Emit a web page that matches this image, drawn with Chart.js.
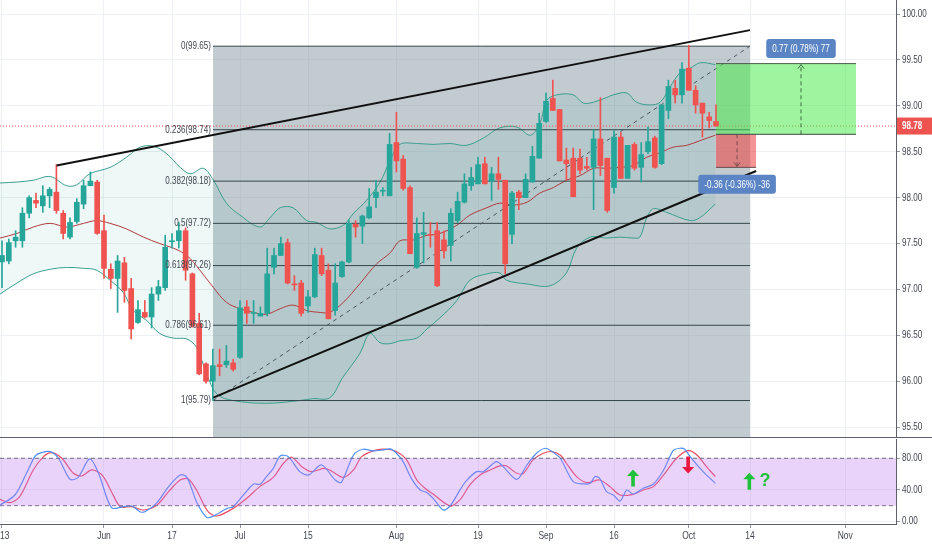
<!DOCTYPE html>
<html lang="en">
<head>
<meta charset="UTF-8">
<title>DXY daily</title>
<script src="https://cdn.jsdelivr.net/npm/chart.js"></script>
<style>
  html, body { margin: 0; padding: 0; background: #fff; }
  #wrap { position: relative; width: 932px; height: 550px; overflow: hidden; }
  #top { position: absolute; left: 0; top: 0; }
  #bot { position: absolute; left: 0; top: 438px; }
  .sep { position: absolute; left: 0; top: 437px; width: 932px; height: 1px; background: #5d606b; }
</style>
</head>
<body>
<div id="wrap">
  <canvas id="top" width="932" height="438" style="width:932px;height:438px"></canvas>
  <canvas id="bot" width="932" height="112" style="width:932px;height:112px"></canvas>
  <div class="sep"></div>
</div>
<script>
// ---- axis ticks ----
const tickIdx  = [0, 15, 25, 35, 45, 58, 70, 80, 90, 101, 110, 124];
const tickText = ['13', 'Jun', '17', 'Jul', '15', 'Aug', '19', 'Sep', '16', 'Oct', '14', 'Nov'];
const priceTicks = [95.5, 96, 96.5, 97, 97.5, 98, 98.5, 99, 99.5, 100];
const stochTicks = [0, 40, 80];

// ---- daily candles (trading day 0 = 13 May) ----
const opens  = [97.30,97.31,97.53,97.53,97.83,97.97,97.91,98.02,98.06,97.83,97.57,97.74,97.93,98.13,98.17,97.64,97.22,97.12,97.29,97.01,
                96.64,96.75,96.70,96.95,97.02,97.52,97.53,97.64,97.17,96.63,96.19,96.00,96.18,96.18,96.20,96.26,96.81,96.74,96.71,96.74,
                97.24,97.37,97.51,97.06,97.07,96.82,96.92,97.37,97.21,96.77,97.14,97.30,97.71,97.69,97.78,98.00,98.07,98.02,98.60,98.42,
                98.11,97.24,97.60,97.60,97.64,97.54,97.48,97.75,97.95,98.13,98.15,98.37,98.18,98.26,98.19,97.60,98.06,98.00,98.17,98.43,
                98.83,99.08,98.96,98.41,98.43,98.43,98.34,98.33,98.64,98.43,98.11,98.66,98.21,98.58,98.33,98.50,98.65,98.37,98.95,99.19,
                99.12,99.41,99.17,99.03,98.88,98.83];
const highs  = [97.53,97.55,97.64,97.89,98.02,98.05,98.13,98.11,98.36,97.86,97.78,97.99,98.19,98.28,98.19,97.81,97.28,97.37,97.35,97.12,
                96.88,96.88,97.02,97.10,97.59,97.61,97.73,97.67,97.18,96.74,96.20,96.35,96.35,96.39,96.24,96.88,96.88,96.88,96.81,97.45,
                97.45,97.57,97.55,97.15,97.10,96.99,97.45,97.45,97.28,97.28,97.31,97.76,97.75,97.81,98.10,98.19,98.11,98.70,98.93,98.46,
                98.13,97.78,97.84,97.73,97.73,97.64,97.88,98.06,98.26,98.33,98.44,98.44,98.33,98.44,98.19,98.07,98.08,98.26,98.56,98.92,
                99.14,99.28,98.96,98.54,98.54,98.53,98.44,98.74,99.09,98.43,98.73,98.71,98.57,98.60,98.60,98.77,98.67,99.01,99.28,99.28,
                99.47,99.66,99.22,99.03,98.93,99.01];
const lows   = [97.02,97.28,97.46,97.46,97.78,97.89,97.84,97.89,97.83,97.55,97.55,97.72,97.88,98.13,97.60,97.12,97.01,96.75,96.86,96.46,
                96.63,96.69,96.58,96.88,96.99,97.45,97.45,97.10,96.59,96.07,95.98,95.79,96.06,96.15,96.11,96.25,96.63,96.63,96.71,96.71,
                97.17,97.37,97.06,96.99,96.71,96.75,96.91,97.15,96.68,96.72,97.13,97.29,97.57,97.50,97.77,97.89,98.02,98.02,98.28,98.08,
                97.39,97.23,97.29,97.46,97.03,97.34,97.31,97.73,97.94,98.08,98.15,98.15,97.97,98.09,97.17,97.50,97.87,98.00,98.17,98.43,
                98.82,98.95,98.40,98.19,98.01,98.26,98.30,97.87,98.24,97.84,98.05,98.21,98.21,98.30,98.17,98.48,98.32,98.36,98.86,99.03,
                99.03,99.17,98.92,98.66,98.76,98.78];
const closes = [97.37,97.51,97.57,97.83,98.00,97.94,98.02,98.09,97.86,97.61,97.73,97.95,98.13,98.18,97.61,97.23,97.12,97.31,96.99,96.57,
                96.78,96.70,96.95,97.03,97.46,97.53,97.64,97.21,96.60,96.08,96.00,96.17,96.16,96.22,96.13,96.80,96.74,96.75,96.74,97.17,
                97.37,97.50,97.07,97.05,96.74,96.92,97.38,97.17,96.68,97.07,97.30,97.72,97.68,97.80,97.90,98.06,98.08,98.58,98.40,98.10,
                97.39,97.61,97.62,97.59,97.04,97.42,97.83,97.96,98.15,98.22,98.36,98.15,98.26,98.20,97.28,98.05,98.00,98.20,98.45,98.81,
                99.05,98.95,98.40,98.37,98.01,98.30,98.32,98.64,98.35,97.86,98.66,98.21,98.57,98.32,98.47,98.61,98.33,99.01,99.21,99.12,
                99.40,99.17,99.01,98.92,98.84,98.78];
const lastPrice = 98.78;

// ---- Bollinger bands ----
const bbUpX = [-0.3,2.2,4.6,7.1,9.5,11,12.9,15.9,18.3,20.3,22.3,24.2,26.2,27.7,29.6,31.1,33,35,37.9,39.4,40.9,42.8,44.8,46.3,48.2,50.2,51.7,53.6,
               55.6,57.1,58.5,61,63.4,65.9,68.3,70.8,73.2,75.7,77.7,79.1,80.1,81.6,84,85.5,87,88.9,89.9,91.9,93.3,95.3,96.8,98.2,99.7,101.2,102.7,104.9];
const bbUp  = [98.16,98.17,98.19,98.23,98.13,98.14,98.26,98.33,98.44,98.55,98.56,98.48,98.33,98.26,98.32,98.19,97.94,97.81,97.68,97.78,97.89,97.89,
               97.75,97.73,97.66,97.70,97.83,97.97,98.17,98.41,98.58,98.59,98.58,98.59,98.57,98.65,98.76,98.77,98.68,98.81,99.06,99.12,99.12,99.03,
               99.04,99.09,99.12,99.14,99.04,99.01,99.04,99.20,99.36,99.41,99.47,99.45];
const bbMidX = [-0.3,2.2,4.6,7.1,9.5,12,13.9,15.9,18.3,20.8,23.2,25.2,27.2,29.1,31.1,33,35,37,38.9,40.9,42.8,44.8,46.8,48.2,50.2,52.6,55.1,57.1,
                58.5,60.5,62.5,64.4,66.9,68.8,71.3,73.2,75.2,77.2,79.1,81.1,83,85,87,88.9,90.9,92.8,94.8,96.8,98.7,100.7,102.6,104.9];
const bbMid  = [97.56,97.61,97.68,97.72,97.68,97.72,97.75,97.72,97.66,97.57,97.50,97.45,97.37,97.21,97.02,96.86,96.79,96.75,96.73,96.79,96.83,
                96.77,96.75,96.75,96.86,97.06,97.28,97.40,97.53,97.54,97.59,97.61,97.70,97.81,97.89,97.94,97.92,97.95,98.05,98.11,98.19,98.24,98.32,
                98.32,98.33,98.35,98.44,98.49,98.55,98.57,98.62,98.68];
const bbLowX = [-0.3,2.2,4.6,7.1,9.5,12,13.9,15.9,17.8,19.3,21.3,23.2,25.2,27.2,28.6,30.1,31.6,34,38.9,43.8,45.7,48.2,50.1,52.6,54.1,55.6,57.1,
                58.5,61,62.5,64.4,66.9,68.8,71.3,73.2,74.2,77.2,80.6,83,84.5,86.5,88.9,90.9,92.8,93.8,94.8,95.8,97.7,101.2,102.6,104.9];
const bbLow  = [96.95,97.07,97.17,97.22,97.24,97.23,97.21,97.10,96.97,96.77,96.66,96.52,96.47,96.46,96.37,96.08,95.86,95.79,95.76,95.79,95.81,
                95.82,96.04,96.30,96.52,96.42,96.41,96.44,96.47,96.57,96.69,96.88,97.10,97.17,97.18,97.10,97.06,97.04,97.18,97.45,97.57,97.56,97.57,
                97.56,97.57,97.78,97.88,97.84,97.75,97.78,97.93];

// ---- stochastic %K / %D ----
const kX = [-0.3,1.9,3.6,4.9,5.8,7.1,8.3,10,11.2,12.9,14.2,16.1,17.8,19.1,20.3,21,22.7,24.5,26.2,27.2,28.6,30.1,31.1,33.1,34,35.7,37,37.9,38.9,
            39.9,40.9,42.1,43.8,45.1,47,49,49.9,51.7,53.1,54.6,56.1,57.1,58,59,60.2,61.5,62.5,63.4,64.9,65.9,67.4,68.3,69.8,70.8,72.7,73.7,75.7,
            77.2,78.6,79.9,81.1,82.1,84,85.5,86.5,87.2,87.9,88.9,89.9,90.9,91.9,92.8,94.3,95.8,97.3,98.7,99.7,100.4,101.2,103.1,104.9];
const kVal = [20.8,33.5,61,83,87.2,88.5,80,53.4,55.9,79.2,61,17.4,18.7,19.6,12.4,12.4,22.9,44.1,58.9,55.9,25.1,5.2,6.9,16.6,18.7,35.6,47.5,47,
              56.8,67.3,83,82.1,63.1,58.9,71.5,52.5,49.6,84.2,91.4,89.3,90.6,91.8,86.3,75.8,54.6,39.8,36.5,29.3,14.5,19.6,40.7,51.7,63.1,63.1,
              75.8,69.4,53.4,71.5,86.3,92.7,87.2,80,50.4,47.5,48.3,56.8,54.6,37.7,33.5,25.9,39.8,34.8,42,47.5,65.2,89.7,92.7,91.4,82.1,63.1,48.3];
const dX = [-0.3,1.2,2.6,4.6,6.1,7.3,8.8,10.5,11.7,13.2,14.7,16.1,17.4,19.1,20.8,22.8,24.5,26.2,27.4,28.6,30.3,31.6,34,36,37.9,39.9,41.4,42.6,
            44.1,45.5,47.3,48.2,50.2,51.7,52.9,55.1,56.6,58,59.5,61,62.2,63.4,65.9,67.4,68.8,70.3,71.8,73.2,74.2,75.7,76.7,78.1,79.6,80.8,82.1,
            83,84.5,86,87.9,89.4,90.9,92.8,94.3,95.8,97.3,99.2,100.9,102.2,103.6,104.9];
const dVal = [28,23.8,31.4,65.2,82.1,87.2,80,61,57.6,65.2,58.9,37.7,18.7,18.7,14.5,20.8,37.7,52.5,53.8,39.8,12.4,6.9,16.6,29.3,44.1,55.9,73.7,
              81.3,69.4,63.1,67.3,65.2,55.9,65.2,82.1,90.6,91.4,88.5,77.9,52.5,42,34.8,19.6,28,46.2,58.9,65.2,70.3,70.3,61,61,77.9,86.3,88.5,84.2,
              73.7,56.8,49.1,52.5,44.1,33.5,34.4,39.8,44.1,58.9,80,89.7,84.2,69.4,56.8];

// ---- drawings ----
const fibLevels = [0, 0.236, 0.382, 0.5, 0.618, 0.786, 1];
const fibPrices = [99.65, 98.74, 98.18, 97.72, 97.26, 96.61, 95.79];
const fibFrom = 31.03, fibTo = 110;
const upperTrend = { x: [8.04, 110], y: [98.35, 99.825] };
const lowerTrend = { x: [31.07, 110.9], y: [95.822, 98.29] };
const entryPrice = 98.69, targetPrice = 99.46, stopPrice = 98.33;
const posFrom = 105, posTo = 125.6, stopTo = 110.9, targetMid = 117.5, stopMid = 108.1;
const profitText = '0.77 (0.78%) 77', lossText = '-0.36 (-0.36%) -36';
const markX = [92.8, 100.9, 109.9], markV = [55, 71.5, 51], markUp = [true, false, true];
const questionX = 112.2, questionV = 51;

const xMin = -0.294, xMax = 131.47;
const FONT = "'Liberation Sans', Arial, sans-serif";
const SQ = 0.77; // narrow text like the original
const GRID = '#edf0f4', AXIS = '#5d606b', TXT = '#434651';
Chart.defaults.font.family = FONT;
Chart.defaults.animation = false;

const pts = (xs, ys) => xs.map((x, k) => ({ x, y: ys[k] }));
function seg(xs, ys, opts) {
  return Object.assign({ type: 'line', data: pts(xs, ys), pointRadius: 0, borderWidth: 1, fill: false, tension: 0 }, opts);
}
const noPad = s => { s.paddingTop = 0; s.paddingBottom = 0; s.paddingLeft = 0; s.paddingRight = 0; };

const idx = opens.map((_, i) => i);
const candleColor = idx.map(i => closes[i] >= opens[i] ? '#26a69a' : '#ef5350');

function ctext(ctx, text, x, y, align, size, color, bold) {
  ctx.save();
  ctx.font = (bold ? 'bold ' : '') + size + 'px ' + FONT;
  ctx.fillStyle = color; ctx.textAlign = align; ctx.textBaseline = 'middle';
  ctx.translate(x, y); ctx.scale(SQ, 1);
  ctx.fillText(text, 0, 0);
  ctx.restore();
}
function chevron(ctx, cx, cy, dir, color) {
  ctx.strokeStyle = color; ctx.lineWidth = 1; ctx.setLineDash([]);
  ctx.beginPath();
  ctx.moveTo(cx - 3, cy - dir * 4); ctx.lineTo(cx, cy); ctx.lineTo(cx + 3, cy - dir * 4);
  ctx.stroke();
}
function tag(ctx, text, cx, cy) {
  ctx.font = '10.5px ' + FONT;
  const w = ctx.measureText(text).width * SQ + 12, h = 19;
  ctx.fillStyle = '#5b84c4';
  ctx.beginPath();
  if (ctx.roundRect) ctx.roundRect(cx - w / 2, cy - h / 2, w, h, 3); else ctx.rect(cx - w / 2, cy - h / 2, w, h);
  ctx.fill();
  ctext(ctx, text, cx, cy + 0.5, 'center', 10.5, '#fff');
}
function arrow(ctx, cx, cy, up, color) {
  const s = up ? -1 : 1;
  ctx.fillStyle = color;
  ctx.beginPath();
  ctx.moveTo(cx, cy + s * 8.5);
  ctx.lineTo(cx + 6, cy + s * 2);
  ctx.lineTo(cx + 1.8, cy + s * 2);
  ctx.lineTo(cx + 1.8, cy - s * 8.5);
  ctx.lineTo(cx - 1.8, cy - s * 8.5);
  ctx.lineTo(cx - 1.8, cy + s * 2);
  ctx.lineTo(cx - 6, cy + s * 2);
  ctx.closePath(); ctx.fill();
}
function yLabels(chart) {
  const { ctx, scales: { y } } = chart;
  y.ticks.forEach(t => ctext(ctx, t.value.toFixed(2), y.left + 6, y.getPixelForValue(t.value), 'left', 10.5, TXT));
}

const topMarks = {
  id: 'topMarks',
  afterDatasetsDraw(chart) {
    const { ctx, scales: { x, y } } = chart;
    ctx.save();
    fibLevels.forEach((lv, k) => {
      ctext(ctx, lv + '(' + fibPrices[k].toFixed(2) + ')', x.getPixelForValue(fibFrom) - 2, y.getPixelForValue(fibPrices[k]), 'right', 10.5, TXT);
    });
    const ax = x.getPixelForValue(targetMid), ty = y.getPixelForValue(targetPrice);
    const bx = x.getPixelForValue(stopMid), sy = y.getPixelForValue(stopPrice);
    chevron(ctx, ax, ty + 1, -1, '#3f6f45');
    chevron(ctx, bx, sy - 1, 1, '#7a4a4a');
    tag(ctx, profitText, ax, ty - 15);
    tag(ctx, lossText, bx, sy + 17);
    ctx.restore();
  },
  afterDraw(chart) {
    const { ctx, scales: { y } } = chart;
    yLabels(chart);
    const yy = y.getPixelForValue(lastPrice);
    ctx.save();
    ctx.fillStyle = '#ef5350';
    ctx.fillRect(y.left + 1, yy - 8.5, 40, 17);
    ctx.restore();
    ctext(ctx, lastPrice.toFixed(2), y.left + 6, yy + 0.5, 'left', 10.5, '#fff', true);
  }
};

new Chart(document.getElementById('top'), {
  type: 'bar',
  data: {
    datasets: [
      seg([fibFrom, fibTo], [fibPrices[0], fibPrices[0]], { borderColor: '#34464b', fill: 'start', backgroundColor: 'rgba(120,140,150,0.45)', order: 30 }),
      seg(bbUpX, bbUp, { borderColor: '#3a9e8e', tension: 0.35, fill: '+1', backgroundColor: 'rgba(38,166,154,0.08)', order: 20 }),
      seg(bbLowX, bbLow, { borderColor: '#3a9e8e', tension: 0.35, order: 20 }),
      seg(bbMidX, bbMid, { borderColor: '#b03a3c', tension: 0.35, order: 19 }),
      ...fibPrices.slice(1).map(p => seg([fibFrom, fibTo], [p, p], { borderColor: '#34464b', order: 18 })),
      seg([xMin, xMax], [lastPrice, lastPrice], { borderColor: '#ef5350', borderDash: [1, 2], order: 17 }),
      seg([fibFrom, fibTo], [fibPrices[6], fibPrices[0]], { borderColor: '#4e5560', borderDash: [4, 4], order: 16 }),
      seg([posFrom, posTo], [targetPrice, targetPrice], { borderColor: '#4c5a4c', fill: { value: entryPrice }, backgroundColor: 'rgba(70,235,70,0.52)', order: 15 }),
      seg([posFrom, stopTo], [stopPrice, stopPrice], { borderColor: '#6a4a4a', fill: { value: entryPrice }, backgroundColor: 'rgba(236,70,70,0.58)', order: 15 }),
      seg([posFrom, posTo], [entryPrice, entryPrice], { borderColor: '#3f4a44', order: 14 }),
      seg([targetMid, targetMid], [entryPrice, targetPrice], { borderColor: '#3f6f45', borderDash: [4, 3], order: 14 }),
      seg([stopMid, stopMid], [entryPrice, stopPrice], { borderColor: '#7a4a4a', borderDash: [4, 3], order: 14 }),
      { type: 'bar', data: idx.map(i => ({ x: i, y: [lows[i], highs[i]] })), backgroundColor: candleColor,
        barThickness: 1, grouped: false, order: 5 },
      { type: 'bar', data: idx.map(i => ({ x: i, y: [Math.min(opens[i], closes[i]), Math.max(opens[i], closes[i])] })),
        backgroundColor: candleColor, barThickness: 5, minBarLength: 1, grouped: false, order: 4 },
      seg(upperTrend.x, upperTrend.y, { borderColor: '#111', borderWidth: 2, order: 1 }),
      seg(lowerTrend.x, lowerTrend.y, { borderColor: '#111', borderWidth: 2, order: 1 })
    ]
  },
  options: {
    responsive: false,
    animation: false,
    layout: { padding: 0 },
    plugins: { legend: { display: false }, tooltip: { enabled: false } },
    scales: {
      x: {
        type: 'linear', min: xMin, max: xMax, offset: false,
        afterBuildTicks: s => { s.ticks = tickIdx.map(v => ({ value: v })); },
        ticks: { display: false },
        grid: { color: GRID, drawTicks: false, offset: false },
        border: { display: false },
        afterFit: s => { s.height = 0; noPad(s); }
      },
      y: {
        position: 'right', min: 95.382, max: 100.153, beginAtZero: false,
        afterBuildTicks: s => { s.ticks = priceTicks.map(v => ({ value: v })); },
        ticks: { display: false },
        grid: { color: GRID, tickColor: '#9598a1', tickLength: 4 },
        border: { color: AXIS },
        afterFit: s => { s.width = 36; noPad(s); }
      }
    }
  },
  plugins: [topMarks]
});

const stochMarks = {
  id: 'stochMarks',
  afterDatasetsDraw(chart) {
    const { ctx, scales: { x, y } } = chart;
    ctx.save();
    markX.forEach((mx, k) => {
      arrow(ctx, x.getPixelForValue(mx), y.getPixelForValue(markV[k]), markUp[k], markUp[k] ? '#1fc23a' : '#e8173f');
    });
    ctx.font = 'bold 18px ' + FONT; ctx.fillStyle = '#1fc23a'; ctx.textAlign = 'center'; ctx.textBaseline = 'middle';
    ctx.fillText('?', x.getPixelForValue(questionX), y.getPixelForValue(questionV));
    ctx.restore();
  },
  afterDraw(chart) {
    const { ctx, scales: { x } } = chart;
    yLabels(chart);
    x.ticks.forEach((t, k) => {
      const px = x.getPixelForValue(t.value);
      if (px < 8) ctext(ctx, tickText[k], 0, x.top + 12, 'left', 11, TXT);
      else ctext(ctx, tickText[k], px, x.top + 12, 'center', 11, TXT);
    });
  }
};

new Chart(document.getElementById('bot'), {
  type: 'line',
  data: {
    datasets: [
      seg([xMin, xMax], [80, 80], { borderColor: '#6e6a80', borderDash: [4, 3], fill: { value: 20 }, backgroundColor: 'rgba(190,120,240,0.33)' }),
      seg([xMin, xMax], [20, 20], { borderColor: '#6e6a80', borderDash: [4, 3] }),
      seg(kX, kVal, { borderColor: '#4c8ef7', borderWidth: 1.2, tension: 0.3 }),
      seg(dX, dVal, { borderColor: '#ec4d61', borderWidth: 1.2, tension: 0.3 })
    ]
  },
  options: {
    responsive: false,
    animation: false,
    layout: { padding: { top: 1 } },
    plugins: { legend: { display: false }, tooltip: { enabled: false } },
    scales: {
      x: {
        type: 'linear', min: xMin, max: xMax,
        afterBuildTicks: s => { s.ticks = tickIdx.map(v => ({ value: v })); },
        ticks: { display: false },
        grid: { color: GRID, tickColor: '#9598a1', tickLength: 4 },
        border: { color: AXIS },
        afterFit: s => { s.height = 26; noPad(s); }
      },
      y: {
        position: 'right', min: -3.2, max: 104.4,
        afterBuildTicks: s => { s.ticks = stochTicks.map(v => ({ value: v })); },
        ticks: { display: false },
        grid: { color: GRID, tickColor: '#9598a1', tickLength: 4 },
        border: { color: AXIS },
        afterFit: s => { s.width = 36; noPad(s); }
      }
    }
  },
  plugins: [stochMarks]
});
</script>
</body>
</html>
